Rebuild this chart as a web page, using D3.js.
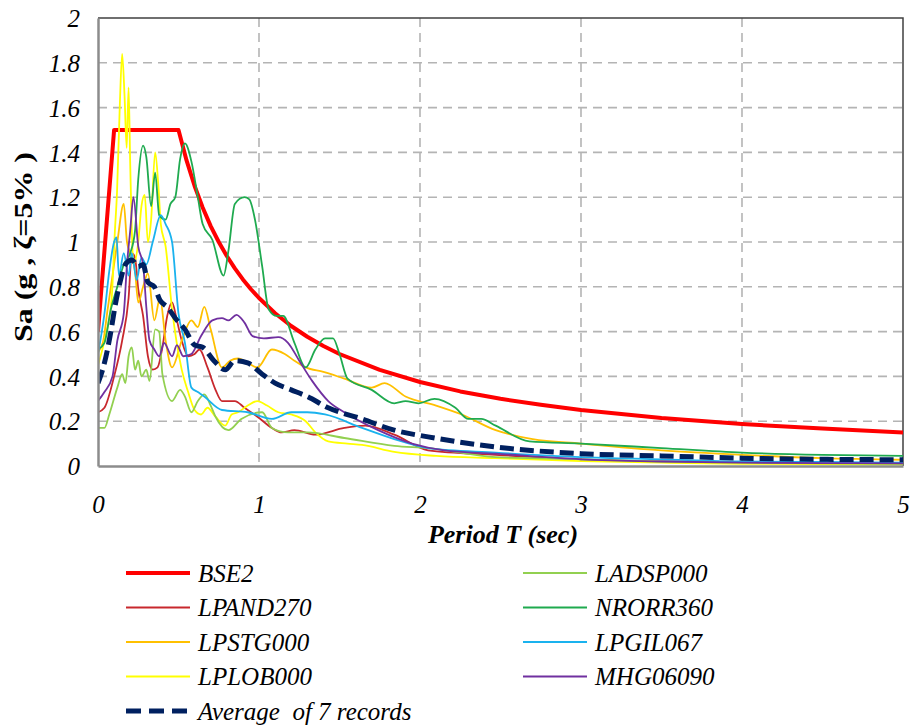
<!DOCTYPE html>
<html>
<head>
<meta charset="utf-8">
<script src="https://cdn.jsdelivr.net/npm/d3@7"></script>
<style>
  body { margin: 0; background: #fff; }
  text { font-family: "Liberation Serif", "Times New Roman", serif; }
</style>
</head>
<body>
<script>
// values, [period (sec), Sa (g)]
var BSE2 = [[0,0.6],[0.1,1.5],[0.5,1.5],[0.55,1.364],[0.6,1.25],[0.65,1.154],[0.7,1.071],[0.75,1.0],[0.8,0.9375],
  [0.85,0.882],[0.9,0.833],[0.95,0.789],[1.0,0.75],[1.1,0.682],[1.2,0.625],[1.3,0.577],[1.4,0.536],[1.5,0.5],
  [1.75,0.429],[2,0.375],[2.25,0.333],[2.5,0.3],[2.75,0.273],[3,0.25],[3.5,0.214],[4,0.1875],[4.5,0.167],[5,0.15]];

var LPAND270 = [[0,0.24],[0.04,0.26],[0.1,0.4],[0.15,0.56],[0.19,0.75],[0.21,0.95],[0.23,0.93],[0.25,0.79],[0.28,0.67],
  [0.31,0.49],[0.34,0.43],[0.37,0.44],[0.4,0.53],[0.43,0.67],[0.46,0.73],[0.49,0.65],[0.52,0.56],[0.56,0.49],[0.6,0.5],
  [0.63,0.52],[0.68,0.44],[0.73,0.34],[0.77,0.29],[0.85,0.29],[0.91,0.26],[0.99,0.22],[1.08,0.17],[1.14,0.15],[1.22,0.16],
  [1.35,0.14],[1.53,0.17],[1.66,0.18],[1.84,0.14],[2.05,0.07],[2.47,0.05],[3,0.03],[3.5,0.02],[4,0.015],[4.5,0.012],[5,0.01]];

var LPSTG000 = [[0,0.51],[0.03,0.55],[0.06,0.7],[0.09,0.85],[0.12,1.0],[0.16,1.17],[0.18,1.0],[0.2,0.95],[0.23,0.87],
  [0.25,0.73],[0.28,0.8],[0.31,0.86],[0.35,0.65],[0.385,0.75],[0.42,0.56],[0.46,0.44],[0.52,0.56],[0.58,0.65],[0.62,0.62],
  [0.66,0.71],[0.7,0.61],[0.77,0.44],[0.82,0.47],[0.87,0.48],[0.93,0.46],[0.99,0.44],[1.08,0.52],[1.16,0.5],[1.22,0.47],
  [1.29,0.44],[1.4,0.42],[1.53,0.39],[1.7,0.35],[1.78,0.37],[1.91,0.31],[2.1,0.27],[2.26,0.23],[2.47,0.16],[2.7,0.12],
  [3,0.1],[3.5,0.07],[4,0.05],[4.5,0.035],[5,0.028]];

var LPLOB000 = [[0,0.45],[0.04,0.56],[0.085,0.75],[0.105,1.05],[0.118,1.22],[0.135,1.6],[0.15,1.84],[0.165,1.65],
  [0.178,1.42],[0.19,1.69],[0.2,1.35],[0.21,1.05],[0.22,0.9],[0.25,1.0],[0.27,1.16],[0.29,1.21],[0.31,1.0],[0.33,1.1],
  [0.355,1.4],[0.375,1.25],[0.39,1.08],[0.42,0.98],[0.46,0.7],[0.52,0.43],[0.56,0.33],[0.6,0.25],[0.64,0.23],[0.68,0.26],
  [0.73,0.22],[0.79,0.18],[0.83,0.23],[0.87,0.24],[0.93,0.27],[0.99,0.29],[1.05,0.27],[1.12,0.24],[1.2,0.23],[1.29,0.2],
  [1.35,0.15],[1.43,0.11],[1.55,0.1],[1.64,0.094],[1.84,0.063],[2.1,0.045],[2.47,0.035],[3,0.022],[3.5,0.015],[4,0.01],
  [4.5,0.008],[5,0.006]];

var LADSP000 = [[0,0.17],[0.04,0.17],[0.07,0.23],[0.12,0.35],[0.15,0.41],[0.17,0.37],[0.19,0.49],[0.21,0.53],[0.23,0.43],
  [0.25,0.47],[0.27,0.4],[0.3,0.43],[0.32,0.38],[0.355,0.61],[0.38,0.6],[0.4,0.41],[0.46,0.29],[0.51,0.34],[0.54,0.31],
  [0.58,0.24],[0.62,0.29],[0.66,0.32],[0.7,0.27],[0.73,0.22],[0.81,0.16],[0.89,0.21],[1.02,0.24],[1.08,0.17],[1.18,0.15],
  [1.3,0.15],[1.53,0.125],[1.84,0.09],[2.05,0.08],[2.47,0.04],[3,0.03],[3.5,0.02],[4,0.015],[4.5,0.012],[5,0.01]];

var NRORR360 = [[0,0.52],[0.04,0.55],[0.08,0.7],[0.12,0.8],[0.16,0.9],[0.2,0.95],[0.23,1.05],[0.25,1.28],[0.28,1.43],
  [0.3,1.38],[0.33,1.16],[0.355,1.31],[0.38,1.12],[0.42,1.1],[0.45,1.17],[0.48,1.2],[0.51,1.37],[0.54,1.44],[0.58,1.36],
  [0.62,1.2],[0.65,1.08],[0.71,1.01],[0.78,0.85],[0.81,0.96],[0.85,1.17],[0.91,1.2],[0.94,1.19],[0.975,1.1],[1.02,0.89],
  [1.06,0.7],[1.11,0.67],[1.15,0.67],[1.22,0.55],[1.29,0.44],[1.35,0.52],[1.41,0.57],[1.46,0.57],[1.5,0.5],[1.55,0.39],
  [1.7,0.34],[1.84,0.28],[1.91,0.29],[1.99,0.28],[2.09,0.3],[2.22,0.26],[2.3,0.21],[2.38,0.21],[2.47,0.18],[2.68,0.11],
  [3,0.1],[3.5,0.08],[4,0.06],[4.5,0.05],[5,0.045]];

var LPGIL067 = [[0,0.5],[0.04,0.68],[0.07,0.87],[0.1,1.0],[0.115,1.02],[0.13,0.85],[0.16,0.95],[0.19,0.85],[0.21,0.95],
  [0.24,0.83],[0.27,0.93],[0.3,0.9],[0.34,1.0],[0.39,1.12],[0.42,1.08],[0.46,1.0],[0.5,0.68],[0.54,0.55],[0.58,0.35],
  [0.62,0.33],[0.66,0.31],[0.77,0.25],[0.93,0.24],[1.08,0.21],[1.2,0.24],[1.3,0.24],[1.41,0.23],[1.64,0.17],[1.84,0.12],
  [2.05,0.08],[2.47,0.06],[3,0.04],[3.5,0.03],[4,0.02],[4.5,0.018],[5,0.015]];

var MHG06090 = [[0,0.29],[0.04,0.33],[0.09,0.4],[0.12,0.56],[0.16,0.68],[0.18,0.9],[0.2,1.05],[0.22,1.2],[0.25,0.98],
  [0.28,0.9],[0.3,0.71],[0.32,0.56],[0.35,0.52],[0.38,0.49],[0.41,0.55],[0.46,0.49],[0.49,0.54],[0.53,0.49],[0.58,0.5],
  [0.64,0.58],[0.71,0.65],[0.77,0.66],[0.81,0.65],[0.86,0.675],[0.91,0.64],[0.96,0.58],[1.03,0.57],[1.12,0.575],
  [1.18,0.55],[1.25,0.47],[1.33,0.38],[1.43,0.29],[1.53,0.24],[1.74,0.16],[1.95,0.1],[2.15,0.07],[2.47,0.055],[3,0.03],
  [3.5,0.02],[4,0.015],[4.5,0.013],[5,0.012]];

var AVERAGE = [[0,0.37],[0.04,0.46],[0.075,0.58],[0.105,0.71],[0.14,0.83],[0.17,0.9],[0.21,0.92],[0.25,0.89],[0.28,0.9],
  [0.31,0.82],[0.35,0.8],[0.385,0.74],[0.43,0.71],[0.48,0.66],[0.54,0.61],[0.6,0.54],[0.65,0.53],[0.72,0.47],[0.79,0.43],
  [0.85,0.47],[0.93,0.46],[1.02,0.41],[1.1,0.37],[1.2,0.34],[1.3,0.31],[1.43,0.26],[1.64,0.21],[1.84,0.16],[2.05,0.13],
  [2.47,0.085],[3,0.055],[3.5,0.045],[4,0.035],[4.5,0.03],[5,0.028]];

var xTicks = [0, 1, 2, 3, 4, 5];
var yTicks = [0, 0.2, 0.4, 0.6, 0.8, 1, 1.2, 1.4, 1.6, 1.8, 2];

// series, in legend order (left column then right column)
var series = [
  {name: "BSE2",     data: BSE2,     color: "#ff0000", w: 4,   col: 0, row: 0},
  {name: "LPAND270", data: LPAND270, color: "#c8282d", w: 1.8, col: 0, row: 1},
  {name: "LPSTG000", data: LPSTG000, color: "#ffc000", w: 1.8, col: 0, row: 2},
  {name: "LPLOB000", data: LPLOB000, color: "#ffff00", w: 1.8, col: 0, row: 3},
  {name: "LADSP000", data: LADSP000, color: "#92d050", w: 1.8, col: 1, row: 0},
  {name: "NRORR360", data: NRORR360, color: "#1faa4f", w: 1.8, col: 1, row: 1},
  {name: "LPGIL067", data: LPGIL067, color: "#1ab2ee", w: 1.8, col: 1, row: 2},
  {name: "MHG06090", data: MHG06090, color: "#7030a0", w: 1.8, col: 1, row: 3},
  {name: "Average  of 7 records", data: AVERAGE, color: "#002060", w: 5, dash: "14,6", col: 0, row: 4}
];

var W = 911, H = 725;
var pLeft = 98, pTop = 18, pRight = 903, pBottom = 466;

var svg = d3.select("body").append("svg")
    .attr("width", W)
    .attr("height", H);

var x = d3.scaleLinear().domain([0, 5]).range([pLeft, pRight]);
var y = d3.scaleLinear().domain([0, 2]).range([pBottom, pTop]);

// dashed grid
svg.append("g").selectAll("line")
  .data(yTicks.slice(1, -1)).enter().append("line")
    .attr("x1", pLeft).attr("x2", pRight)
    .attr("y1", function(d) { return y(d); }).attr("y2", function(d) { return y(d); })
    .attr("stroke", "#b4b4b4").attr("stroke-width", 1.6).attr("stroke-dasharray", "9,6");
svg.append("g").selectAll("line")
  .data(xTicks.slice(1, -1)).enter().append("line")
    .attr("y1", pTop).attr("y2", pBottom)
    .attr("x1", function(d) { return x(d); }).attr("x2", function(d) { return x(d); })
    .attr("stroke", "#b4b4b4").attr("stroke-width", 1.6).attr("stroke-dasharray", "9,6");

// frame: top/right darker, left/bottom grey axes
svg.append("path")
    .attr("d", "M" + pLeft + "," + pTop + "H" + pRight + "V" + pBottom)
    .attr("fill", "none").attr("stroke", "#404040").attr("stroke-width", 1.5);

var line = d3.line()
    .x(function(d) { return x(d[0]); })
    .y(function(d) { return y(d[1]); })
    .curve(d3.curveMonotoneX);
var straight = d3.line()
    .x(function(d) { return x(d[0]); })
    .y(function(d) { return y(d[1]); });

svg.append("clipPath").attr("id", "plot")
  .append("rect").attr("x", pLeft).attr("y", pTop - 2).attr("width", pRight - pLeft).attr("height", pBottom - pTop + 2);

var g = svg.append("g").attr("clip-path", "url(#plot)");
g.selectAll("path")
  .data(series).enter().append("path")
    .attr("d", function(d) { return d.name === "BSE2" ? straight(d.data) : line(d.data); })
    .attr("fill", "none")
    .attr("stroke", function(d) { return d.color; })
    .attr("stroke-width", function(d) { return d.w; })
    .attr("stroke-dasharray", function(d) { return d.dash || null; })
    .attr("stroke-linejoin", "round");

// axes
var xAxis = svg.append("g")
    .attr("transform", "translate(0," + pBottom + ")")
    .call(d3.axisBottom(x).tickValues(xTicks).tickSize(0).tickPadding(29).tickFormat(d3.format("d")));
var yAxis = svg.append("g")
    .attr("transform", "translate(" + pLeft + ",0)")
    .call(d3.axisLeft(y).tickValues(yTicks).tickSize(0).tickPadding(18).tickFormat(function(d) { return String(+d.toFixed(1)); }));
[xAxis, yAxis].forEach(function(a) {
  a.select(".domain").attr("stroke", "#8c8c8c").attr("stroke-width", 2.5);
  a.selectAll("text")
    .attr("font-family", "Liberation Serif")
    .attr("font-style", "italic")
    .attr("font-size", 25)
    .attr("fill", "#000");
});
yAxis.selectAll("text").attr("dy", "0.35em");

// titles
svg.append("text")
    .attr("x", 503).attr("y", 543)
    .attr("text-anchor", "middle")
    .attr("font-size", 26).attr("font-weight", "bold").attr("font-style", "italic")
    .text("Period T (sec)");
svg.append("text")
    .attr("transform", "translate(32,247) rotate(-90)")
    .attr("text-anchor", "middle")
    .attr("font-size", 25).attr("font-weight", "bold")
    .attr("textLength", 190).attr("lengthAdjust", "spacingAndGlyphs")
    .text("Sa (g , ζ=5% )");

// legend
var colX = [126, 523], rowY0 = 573, rowStep = 34.5;
var leg = svg.append("g").selectAll("g")
  .data(series).enter().append("g")
    .attr("transform", function(d) { return "translate(" + colX[d.col] + "," + (rowY0 + d.row * rowStep) + ")"; });
leg.append("line")
    .attr("x1", 0).attr("x2", 64)
    .attr("stroke", function(d) { return d.color; })
    .attr("stroke-width", function(d) { return d.w < 2 ? 2 : d.w; })
    .attr("stroke-dasharray", function(d) { return d.dash ? "15,8" : null; });
leg.append("text")
    .attr("x", 72).attr("dy", "0.35em")
    .attr("font-size", 25).attr("font-style", "italic")
    .style("white-space", "pre")
    .text(function(d) { return d.name; });
</script>
</body>
</html>
